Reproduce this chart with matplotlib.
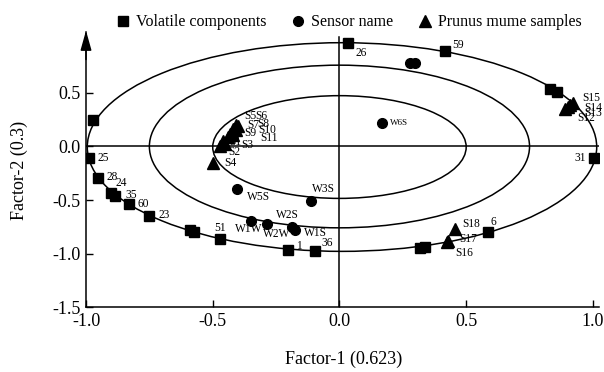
import numpy as np
import matplotlib.pyplot as plt
from matplotlib.patches import Ellipse
from matplotlib.lines import Line2D

plt.rcParams['font.family'] = ['Liberation Serif', 'DejaVu Serif']

# Volatile components (squares)
vol_names = ['26', '59', '', '', '31', '25', '28', '24', '35', '60', '23', '', '',
             '51', '1', '36', '', '', '6', '']
vol_x = [0.034, 0.416, 0.83, 0.858, 1.004, -0.988, -0.952, -0.90, -0.885, -0.83, -0.75,
         -0.59, -0.575, -0.47, -0.203, -0.097, 0.318, 0.337, 0.586, -0.972]
vol_y = [0.97, 0.888, 0.54, 0.505, -0.103, -0.112, -0.29, -0.43, -0.458, -0.54, -0.645,
         -0.785, -0.80, -0.86, -0.963, -0.972, -0.944, -0.935, -0.80, 0.25]

# Sensors (circles)
sen_names = ['W6S', '', '', 'W5S', 'W3S', 'W1W', 'W2W', 'W2S', 'W1S']
sen_x = [0.168, 0.278, 0.298, -0.404, -0.112, -0.349, -0.286, -0.187, -0.176]
sen_y = [0.224, 0.776, 0.776, -0.393, -0.505, -0.692, -0.72, -0.748, -0.776]

# Prunus mume samples (triangles)
smp_names = ['S1', 'S2', 'S3', 'S4', 'S5', 'S6', 'S7', 'S8', 'S9', 'S10', 'S11',
             'S12', 'S13', 'S14', 'S15', 'S16', 'S17', 'S18']
smp_x = [-0.46, -0.47, -0.45, -0.50, -0.41, -0.40, -0.42, -0.41, -0.43, -0.42, -0.44,
         0.89, 0.90, 0.91, 0.92, 0.425, 0.43, 0.455]
smp_y = [0.05, 0.00, 0.02, -0.15, 0.20, 0.19, 0.16, 0.15, 0.12, 0.11, 0.09,
         0.35, 0.37, 0.39, 0.41, -0.89, -0.88, -0.77]

# label offsets in pixels (dx, dy, ha)
offs = {
    '26': (7, -10, 'left'), '59': (7, 6, 'left'), '31': (-8, 0, 'right'),
    '25': (8, 0, 'left'), '28': (8, 1, 'left'), '24': (4, 10, 'left'),
    '35': (10, 1, 'left'), '60': (8, 0, 'left'), '23': (9, 1, 'left'),
    '51': (0, 11, 'center'), '1': (8, 4, 'left'), '36': (7, 8, 'left'),
    '6': (3, 10, 'left'),
    'W6S': (8, 0, 'left'), 'W5S': (10, -8, 'left'), 'W3S': (1, 12, 'left'),
    'W1W': (-2, -8, 'center'), 'W2W': (-4, -10, 'left'), 'W2S': (-5, 12, 'center'),
    'W1S': (9, -3, 'left'),
    'S1': (6, -1, 'left'), 'S2': (8, -6, 'left'), 'S3': (16, -1, 'left'),
    'S4': (12, 0, 'left'), 'S5': (9, 9, 'left'), 'S6': (17, 10, 'left'),
    'S7': (14, 4, 'left'), 'S8': (22, 6, 'left'), 'S9': (14, 1, 'left'),
    'S10': (25, 5, 'left'), 'S11': (32, -1, 'left'),
    'S12': (12, -9, 'left'), 'S13': (17, -6, 'left'), 'S14': (14, -3, 'left'),
    'S15': (10, 5, 'left'),
    'S16': (8, -11, 'left'), 'S17': (11, 2, 'left'), 'S18': (7, 5, 'left'),
}

fig = plt.figure(figsize=(6.04, 3.72), dpi=100)
ax = fig.add_axes([0.1424, 0.1747, 0.8493, 0.7393])

# circles of correlation
for w, h, cx, cy in [(2.01, 1.95, 0.01, -0.005), (1.50, 1.52, 0.0, 0.0), (1.0, 0.96, 0.0, -0.005)]:
    ax.add_patch(Ellipse((cx, cy), w, h, fill=False, lw=1.1, ec='k'))

ax.axhline(0, color='k', lw=1.1)
ax.axvline(0, ymin=0, ymax=(1.02 + 1.5) / 2.57, color='k', lw=1.1)

ax.plot(vol_x, vol_y, 's', color='k', ms=6.8, ls='none')
ax.plot(sen_x, sen_y, 'o', color='k', ms=7, ls='none')
ax.plot(smp_x, smp_y, '^', color='k', ms=8, ls='none')

for names, xs, ys in [(vol_names, vol_x, vol_y), (sen_names, sen_x, sen_y), (smp_names, smp_x, smp_y)]:
    for n, x, y in zip(names, xs, ys):
        if not n:
            continue
        dx, dy, ha = offs[n]
        fs = 6.5 if n == 'W6S' else 8.3
        ax.annotate(n, (x, y), xytext=(dx, dy), textcoords='offset pixels',
                    ha=ha, va='center', fontsize=fs)

ax.set_xlim(-1.0, 1.024)
ax.set_ylim(-1.5, 1.07)
ax.set_xticks([-1.0, -0.5, 0.0, 0.5, 1.0])
ax.set_yticks([-1.5, -1.0, -0.5, 0.0, 0.5])
ax.xaxis.set_major_formatter(plt.FormatStrFormatter('%.1f'))
ax.yaxis.set_major_formatter(plt.FormatStrFormatter('%.1f'))
ax.tick_params(direction='in', length=5, width=1, labelsize=13, pad=4)
ax.spines['top'].set_visible(False)
ax.spines['right'].set_visible(False)
ax.spines['left'].set_linewidth(1.1)
ax.spines['bottom'].set_linewidth(1.1)

# arrow on y axis
ax.annotate('', xy=(0, 1.005), xycoords='axes fraction', xytext=(0, 0.9),
            arrowprops=dict(arrowstyle='-|>,head_length=1.0,head_width=0.28',
                            color='k', lw=1.1, mutation_scale=12, shrinkA=0, shrinkB=0),
            annotation_clip=False)

ax.set_xlabel('Factor-1 (0.623)', fontsize=13)
ax.set_ylabel('Factor-2 (0.3)', fontsize=13)
ax.xaxis.set_label_coords(0.503, -0.16)
ax.yaxis.set_label_coords(-0.113, 0.498)

handles = [Line2D([], [], marker='s', color='k', ls='none', ms=6.5),
           Line2D([], [], marker='o', color='k', ls='none', ms=7),
           Line2D([], [], marker='^', color='k', ls='none', ms=8)]
fig.legend(handles, ['Volatile components', 'Sensor name', 'Prunus mume samples'],
           loc='center', bbox_to_anchor=(0.578, 0.94), ncol=3, frameon=False,
           fontsize=11.5, handlelength=0.8, handletextpad=0.4, columnspacing=1.6)

fig.savefig('out.png', dpi=100)
